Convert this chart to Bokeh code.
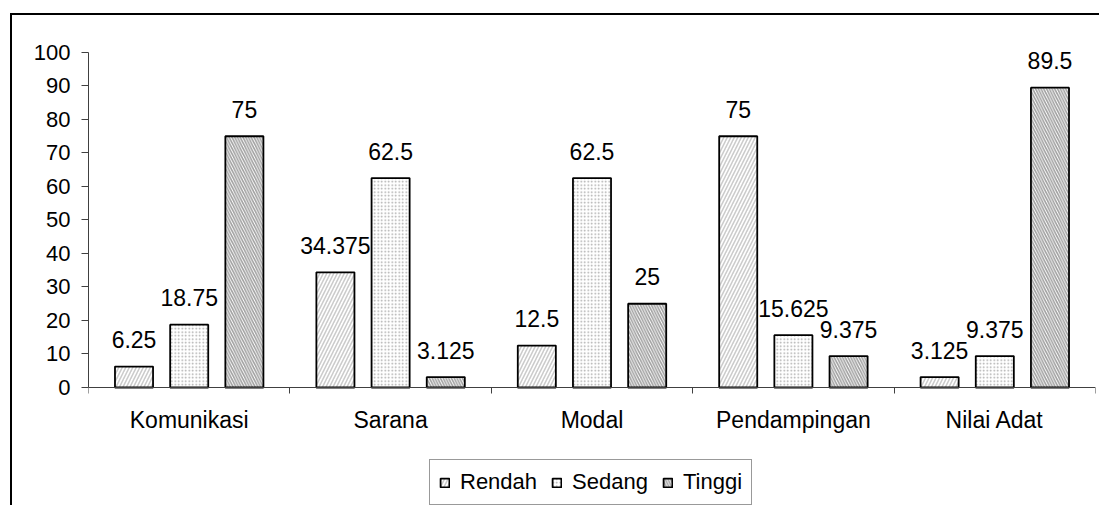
from bokeh.plotting import figure
from bokeh.models import Range1d, FixedTicker, ColumnDataSource, Legend, LegendItem
from bokeh.core.properties import value
from bokeh.embed import file_html
from bokeh.resources import INLINE

categories = ["Komunikasi", "Sarana", "Modal", "Pendampingan", "Nilai Adat"]
series = ["Rendah", "Sedang", "Tinggi"]
rendah = [6.25, 34.375, 12.5, 75, 3.125]
sedang = [18.75, 62.5, 62.5, 15.625, 9.375]
tinggi = [75, 3.125, 25, 9.375, 89.5]
y_ticks = [0, 10, 20, 30, 40, 50, 60, 70, 80, 90, 100]

FONT = "Liberation Sans"

# frame covers the whole canvas height; axes are bounded to 0..100
p = figure(width=1089, height=492, output_backend="svg", toolbar_location=None,
           x_range=Range1d(0, 5), y_range=Range1d(-35.82, 111.04),
           min_border_left=76, min_border_top=0, min_border_right=6, min_border_bottom=0)
p.margin = (13, 0, 0, 10)
p.styles = {"border-left": "2px solid black", "border-top": "2px solid black"}
p.outline_line_color = None
p.xgrid.visible = False
p.ygrid.visible = False
p.background_fill_color = "white"
p.border_fill_color = "white"

centers = [i + 0.5 for i in range(len(categories))]
offsets = [-0.274, 0.0, 0.274]
bar_w = 0.189

styles = [
    dict(fill_color="white", hatch_pattern="right_diagonal_line", hatch_color="#cccccc",
         hatch_scale=7, hatch_weight=1.6),
    dict(fill_color="white", hatch_pattern="dot", hatch_color="#a8a8a8",
         hatch_scale=3.5, hatch_weight=1.2),
    dict(fill_color="white", hatch_pattern="left_diagonal_line", hatch_color="#a0a0a0",
         hatch_scale=5.5, hatch_weight=1.6),
]

items = []
for name, vals, off, st in zip(series, [rendah, sedang, tinggi], offsets, styles):
    src = ColumnDataSource(dict(
        x=[c + off for c in centers],
        top=vals,
        label=[f"{v:g}" for v in vals],
    ))
    r = p.vbar(x="x", top="top", bottom=0, width=bar_w, source=src,
               line_color="black", line_width=1.8, **st)
    p.text(x="x", y="top", text="label", source=src, text_align="center",
           text_baseline="alphabetic", y_offset=-27,
           text_font=value(FONT), text_font_size="23px", text_color="black")
    items.append(LegendItem(label=name, renderers=[r]))

legend = Legend(items=items, orientation="horizontal", location=(341, 2),
                label_text_font=FONT, label_text_font_size="22px", label_text_color="black",
                glyph_width=11, glyph_height=11, label_standoff=10, spacing=14,
                padding=9, margin=0, border_line_color="#333333", border_line_width=1,
                background_fill_color="white", background_fill_alpha=1.0)
p.add_layout(legend, "center")

# y axis
ya = p.yaxis[0]
ya.ticker = FixedTicker(ticks=y_ticks)
ya.bounds = (0, 100)
ya.minor_tick_line_color = None
ya.major_tick_out = 7
ya.major_tick_in = 0
ya.major_label_standoff = 11
ya.axis_line_color = "#404040"
ya.major_tick_line_color = "#404040"
ya.major_label_text_font = FONT
ya.major_label_text_font_size = "22px"
ya.major_label_text_color = "black"

# x axis drawn at y = 0
xa = p.xaxis[0]
xa.fixed_location = 0
xa.ticker = FixedTicker(ticks=centers, minor_ticks=[0, 1, 2, 3, 4, 5])
xa.major_label_overrides = {c: cat for c, cat in zip(centers, categories)}
xa.major_tick_out = 0
xa.major_tick_in = 0
xa.minor_tick_out = 6
xa.minor_tick_in = 0
xa.minor_tick_line_color = "#404040"
xa.axis_line_color = "#404040"
xa.major_label_standoff = 14
xa.major_label_text_font = FONT
xa.major_label_text_font_size = "23px"
xa.major_label_text_color = "black"

open("out.html", "w").write(file_html(p, INLINE))
